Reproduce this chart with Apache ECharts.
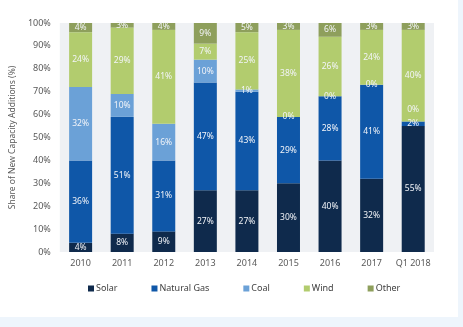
<!DOCTYPE html>
<html><head><meta charset="utf-8">
<script src="https://cdn.jsdelivr.net/npm/echarts@6/dist/echarts.min.js"></script>
<style>html,body{margin:0;padding:0;background:#fff}#c{width:463px;height:327px}</style>
</head><body><div id="c"></div>
<script>
const categories = ['2010','2011','2012','2013','2014','2015','2016','2017','Q1 2018'];
const solar = [4, 8, 9, 27, 27, 30, 40, 32, 55];
const naturalGas = [36, 51, 31, 47, 43, 29, 28, 41, 2];
const coal = [32, 10, 16, 10, 1, 0, 0, 0, 0];
const wind = [24, 29, 41, 7, 25, 38, 26, 24, 40];
const other = [4, 3, 4, 9, 5, 3, 6, 3, 3];
const yTicks = [0,10,20,30,40,50,60,70,80,90,100];

const names = ['Solar','Natural Gas','Coal','Wind','Other'];
const dataSets = [solar, naturalGas, coal, wind, other];
const colors = ['#0f2a4c','#0f57a8','#6ba1d7','#b2cc6e','#8e9f5c'];

const chart = echarts.init(document.getElementById('c'), null, {renderer:'canvas'});
chart.setOption({
  animation:false,
  backgroundColor:'#ffffff',
  graphic:[
    {type:'rect', left:0, top:317, shape:{width:463, height:10}, style:{fill:'#eef5fc'}, silent:true},
    {type:'rect', left:458, top:0, shape:{width:5, height:327}, style:{fill:'#eef5fc'}, silent:true}
  ],
  grid:{left:47, right:29, top:23, bottom:75, show:true, backgroundColor:'#eff1f4', borderWidth:0},
  legend:{
    data:names, top:279, left:83, itemWidth:6, itemHeight:6, itemGap:34,
    icon:'rect', textStyle:{fontFamily:'Noto Sans', fontSize:9, color:'#404040', padding:[0,0,0,-3]}
  },
  xAxis:{
    type:'category', data:categories,
    axisLine:{show:false}, axisTick:{show:false},
    axisLabel:{interval:0, fontFamily:'Noto Sans', fontSize:9, color:'#595959', margin:7}
  },
  yAxis:{
    type:'value', min:0, max:100, interval:10,
    name:'Share of New Capacity Additions (%)', nameLocation:'middle', nameGap:34,
    nameTextStyle:{fontFamily:'Noto Sans', fontSize:8.5, color:'#595959'},
    splitLine:{show:false}, axisLine:{show:false}, axisTick:{show:false},
    axisLabel:{fontFamily:'Noto Sans', fontSize:9, color:'#595959', margin:9,
      formatter:v => yTicks.includes(v) ? v + '%' : ''}
  },
  series: names.map((n,i)=>({
    name:n, type:'bar', stack:'s', barWidth:23, clip:true,
    data: dataSets[i].map((v,j)=> (n==='Coal' && categories[j]==='Q1 2018')
      ? {value:v, label:{offset:[0,-12]}} : v),
    itemStyle:{color:colors[i]},
    label:{show:true, position:'inside', formatter:p=>p.value+'%',
      fontFamily:'Noto Sans', fontSize:8.5, color:'#f2f4f8'}
  }))
});
</script></body></html>
